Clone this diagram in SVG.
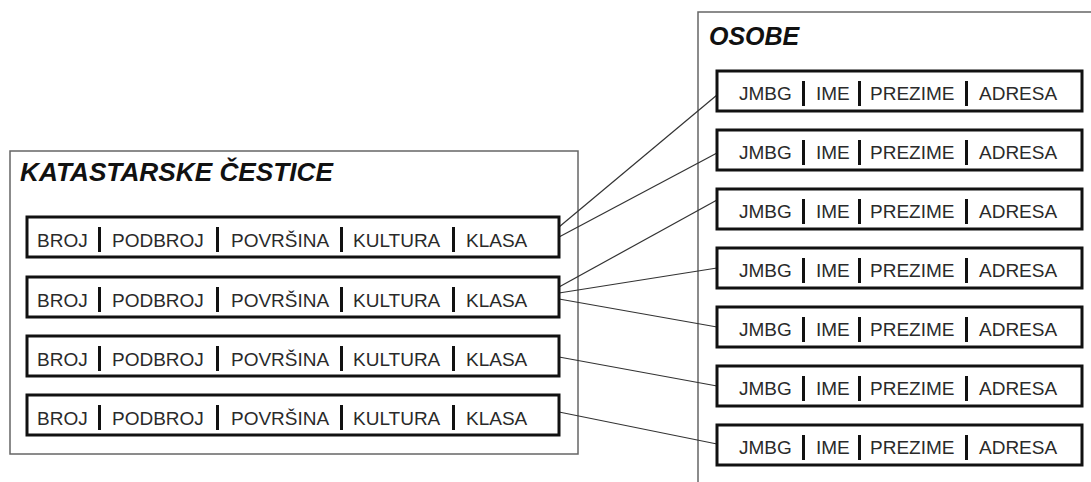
<svg xmlns="http://www.w3.org/2000/svg" width="1091" height="482" viewBox="0 0 1091 482">
  <style>
    .frame { fill: none; stroke: #666; stroke-width: 1.5; }
    .title { font-family: "Liberation Sans", Arial, sans-serif; font-size: 25px; font-weight: bold; font-style: italic; fill: #111; }
    .row { fill: #fff; stroke: #111; stroke-width: 3; }
    .fld { font-family: "Liberation Sans", Arial, sans-serif; font-size: 19px; fill: #2a2a2a; }
    .sep { fill: #111; }
    .link { fill: none; stroke: #333; stroke-width: 1.2; }
  </style>
  <defs>
    <!-- parcel record: row box with five fields -->
    <g id="parcelRow">
      <rect class="row" x="27" y="0" width="532" height="40"/>
      <text class="fld" x="37" y="30">BROJ</text>
      <rect class="sep" x="98" y="10" width="3" height="25"/>
      <text class="fld" x="112" y="30">PODBROJ</text>
      <rect class="sep" x="216" y="10" width="3" height="25"/>
      <text class="fld" x="231" y="30">POVRŠINA</text>
      <rect class="sep" x="340" y="10" width="3" height="25"/>
      <text class="fld" x="353" y="30">KULTURA</text>
      <rect class="sep" x="452" y="10" width="3" height="25"/>
      <text class="fld" x="466" y="30">KLASA</text>
    </g>
    <!-- person record: row box with four fields -->
    <g id="personRow">
      <rect class="row" x="717" y="0" width="365" height="40"/>
      <text class="fld" x="739" y="29">JMBG</text>
      <rect class="sep" x="802" y="10" width="3" height="25"/>
      <text class="fld" x="816" y="29">IME</text>
      <rect class="sep" x="858" y="10" width="3" height="25"/>
      <text class="fld" x="870" y="29">PREZIME</text>
      <rect class="sep" x="965" y="10" width="3" height="25"/>
      <text class="fld" x="979" y="29">ADRESA</text>
    </g>
  </defs>

  <rect width="1091" height="482" fill="#fff"/>

  <!-- containers -->
  <g id="katastarske-cestice">
    <rect class="frame" x="10" y="151" width="568" height="303"/>
    <text class="title" x="20" y="181" textLength="313" lengthAdjust="spacingAndGlyphs">KATASTARSKE ČESTICE</text>
  </g>
  <g id="osobe">
    <path class="frame" d="M1091 12 H698 V482"/>
    <text class="title" x="709" y="45">OSOBE</text>
  </g>

  <!-- connectors -->
  <g id="connectors">
    <line class="link" x1="559" y1="227" x2="717" y2="95"/>
    <line class="link" x1="559" y1="237" x2="717" y2="153"/>
    <line class="link" x1="559" y1="287" x2="717" y2="200"/>
    <line class="link" x1="559" y1="293" x2="717" y2="268"/>
    <line class="link" x1="559" y1="299" x2="717" y2="327"/>
    <line class="link" x1="559" y1="357" x2="717" y2="386"/>
    <line class="link" x1="559" y1="412" x2="717" y2="444"/>
  </g>

  <!-- parcel rows -->
  <g id="cestica-1"><use href="#parcelRow" y="217"/></g>
  <g id="cestica-2"><use href="#parcelRow" y="277"/></g>
  <g id="cestica-3"><use href="#parcelRow" y="336"/></g>
  <g id="cestica-4"><use href="#parcelRow" y="395"/></g>

  <!-- person rows -->
  <g id="osoba-1"><use href="#personRow" y="71"/></g>
  <g id="osoba-2"><use href="#personRow" y="130"/></g>
  <g id="osoba-3"><use href="#personRow" y="189"/></g>
  <g id="osoba-4"><use href="#personRow" y="248"/></g>
  <g id="osoba-5"><use href="#personRow" y="307"/></g>
  <g id="osoba-6"><use href="#personRow" y="366"/></g>
  <g id="osoba-7"><use href="#personRow" y="425"/></g>
</svg>
